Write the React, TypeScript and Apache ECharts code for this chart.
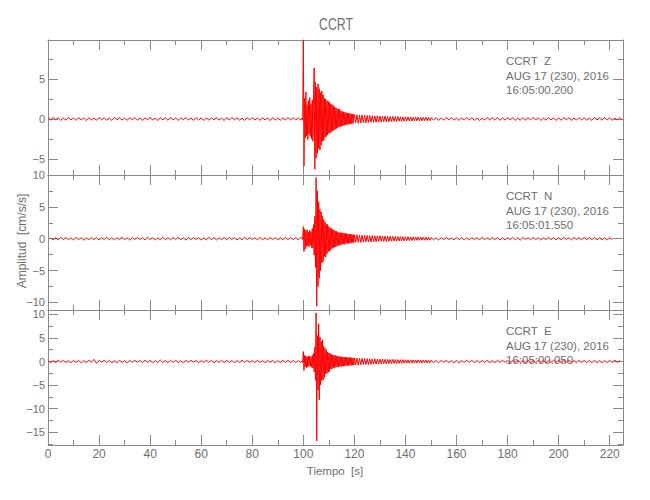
import React, { useEffect, useRef } from "react";
import * as echarts from "echarts";

// ---------- data ----------
const stationName = "CCRT";
const components = ["Z", "N", "E"];
const dateLabel = "AUG 17 (230), 2016";
const startTimes = ["16:05:00.200", "16:05:01.550", "16:05:00.050"];
const xTitle = "Tiempo  [s]";
const yTitle = "Amplitud  [cm/s/s]";

const X_MIN = 0;
const X_MAX = 225.2;
const yMins = [-7.03, -11.2, -17.7];
const yMaxs = [9.91, 10, 10.92];

// Z component (cm/s/s)
const zPre = [
  .15,-.12,.18,-.1,.14,-.17,.1,-.15,.2,-.12,
  .13,-.18,.16,-.1,.12,-.2,.17,-.13,.1,-.16,
  .19,-.11,.14,-.15,.12,-.18,.2,-.1,.15,-.14,
  .11,-.17,.16,-.12,.18,-.13,.1,-.19,.15,-.12,
  .22,-.15,.13,-.2,.17,-.11,.14,-.16,.2,-.13,
  .12,-.18,.15,-.1,.19,-.14,.11,-.17,.16,-.12,
  .14,-.2,.13,-.15,.18,-.11,.16,-.14,.12,-.19,
  .17,-.13,.2,-.1,.14,-.16,.11,-.18,.15,-.12,
  .19,-.14,.12,-.17,.16,-.11,.13,-.2,.18,-.15,
  .1,-.16,.14,-.12,.2,-.13,.17,-.15,.11,-.14
];
const zEvent = [
  .12,-.15,9.95,-5.9,2.6,-2.4,3.4,-2.1,1.8,-2.6,
  2.3,-1.9,2.7,-2.2,1.9,-2.5,2.4,-2.8,3.2,6.4,
  -6.3,4.6,-4.9,4.0,-4.3,4.4,-3.7,3.8,-3.9,3.3,
  -3.3,3.5,-2.8,3.0,-2.7,2.6,-2.3,2.5,-2.2,2.3,
  -2.0,2.2,-1.8,2.1,-1.75,1.9,-1.6,1.8,-1.5,1.7,
  -1.4,1.5,-1.3,1.4,-1.2,1.3,-1.1,1.25,-1.0,1.2,
  -.95,1.0,-.9,.95,-.85,.9,-.8,.85,-.75,.8,
  -.7,.75,-.7,.7,-.65,.7,-.6,.65,-.6,.6,
  -.55,.6
];
const zTail = [
  .55,-.5,.52,-.55,.48,-.5,.5,-.45,.47,-.5,
  .44,-.42,.45,-.4,.42,-.44,.38,-.4,.4,-.36,
  .37,-.38,.35,-.33,.36,-.34,.32,-.35,.3,-.31,
  .32,-.3,.28,-.3,.3,-.27,.28,-.29,.26,-.27,
  .27,-.25,.26,-.24,.25,-.26,.23,-.24,.25,-.22,
  .24,-.22,.21,-.23,.22,-.2,.22,-.21,.2,-.22
];
const zPost = [
  .18,-.14,.16,-.19,.13,-.15,.2,-.12,.17,-.16,
  .12,-.18,.15,-.13,.19,-.11,.16,-.17,.14,-.2,
  .11,-.15,.18,-.13,.16,-.12,.2,-.17,.13,-.15,
  .17,-.11,.14,-.19,.12,-.16,.18,-.14,.15,-.12,
  .2,-.13,.16,-.18,.11,-.15,.17,-.12,.14,-.19,
  .13,-.16,.18,-.11,.15,-.17,.12,-.14,.19,-.13,
  .16,-.15,.11,-.18,.17,-.12,.14,-.16,.2,-.13,
  .15,-.17,.12,-.14,.18,-.15
];

// N component
const nPre = [
  .16,-.2,.13,-.17,.21,-.12,.18,-.15,.11,-.19,
  .2,-.14,.15,-.22,.12,-.16,.19,-.13,.17,-.2,
  .14,-.11,.22,-.17,.13,-.19,.16,-.12,.2,-.15,
  .12,-.21,.17,-.14,.19,-.1,.15,-.18,.21,-.13,
  .16,-.2,.11,-.17,.23,-.15,.14,-.19,.18,-.12,
  .2,-.16,.13,-.21,.17,-.14,.19,-.11,.15,-.2,
  .12,-.18,.22,-.13,.16,-.19,.14,-.15,.2,-.17,
  .18,-.12,.15,-.2,.13,-.16,.21,-.14,.17,-.11,
  .14,-.19,.2,-.15,.12,-.17,.18,-.13,.16,-.2,
  .13,-.16,.19,-.12,.17,-.14,.15,-.18,.2
];
const nEvent = [
  .1,-.15,1.9,-2.0,1.5,-1.6,1.3,-1.2,1.4,-1.1,
  1.0,-1.3,1.3,-1.0,1.1,-1.4,1.6,-1.5,2.2,-2.6,
  3.5,-4.5,9.6,-10.6,7.5,-7.5,5.8,-6.2,4.6,-5.0,
  4.2,-3.8,3.5,-3.6,3.0,-2.8,2.6,-2.9,2.3,-2.4,
  2.2,-2.0,1.9,-2.0,1.7,-1.8,1.6,-1.5,1.4,-1.5,
  1.4,-1.3,1.2,-1.3,1.2,-1.1,1.0,-1.1,1.0,-.95,
  .9,-1.0,.95,-.85,.9,-.8,.85,-.9,.8,-.75,
  .8,-.7,.75,-.8,.7,-.65,.7,-.7,.65,-.6,
  .65,-.6
];
const nTail = [
  .6,-.58,.62,-.55,.56,-.6,.52,-.54,.55,-.5,
  .5,-.52,.47,-.5,.48,-.45,.46,-.47,.43,-.45,
  .44,-.4,.42,-.43,.4,-.41,.38,-.4,.39,-.36,
  .37,-.38,.35,-.36,.34,-.35,.33,-.34,.32,-.33,
  .31,-.32,.3,-.3,.29,-.3,.28,-.27,.28,-.26,
  .27,-.25,.26,-.24,.25,-.24,.23,-.24,.22,-.23
];
const nPost = [
  .2,-.17,.14,-.21,.16,-.13,.19,-.15,.12,-.18,
  .21,-.14,.17,-.2,.13,-.16,.18,-.12,.15,-.19,
  .22,-.15,.13,-.17,.19,-.14,.16,-.2,.12,-.18,
  .17,-.13,.2,-.16,.14,-.21,.18,-.12,.15,-.17,
  .19,-.14,.13,-.2,.16,-.15,.21,-.13,.17,-.18,
  .12,-.16,.2,-.14,.15,-.19,.18,-.12,.14,-.17,
  .2,-.15,.16,-.13,.19,-.18,.14,-.16,.17,-.2,
  .13,-.15
];

// E component
const ePre = [
  .2,-.25,.18,-.22,.27,-.16,.23,-.2,.15,-.26,
  .24,-.19,.21,-.28,.17,-.23,.26,-.18,.45,-.4,
  .22,-.15,.27,-.21,.19,-.25,.16,-.22,.25,-.2,
  .18,-.27,.23,-.17,.26,-.14,.21,-.24,.28,-.19,
  .24,-.26,.17,-.22,.3,-.2,.19,-.25,.23,-.18,
  .26,-.21,.16,-.27,.22,-.19,.25,-.15,.2,-.24,
  .17,-.23,.28,-.18,.21,-.26,.19,-.2,.25,-.22,
  .23,-.16,.2,-.25,.18,-.21,.27,-.19,.22,-.17,
  .19,-.24,.26,-.2,.16,-.23,.24,-.18,.21,-.26,
  .18,-.21,.25,-.17,.23,-.19,.2,-.24,.16,-.22
];
const eEvent = [
  .1,-.2,2.1,-1.9,1.3,-1.1,1.2,-1.3,1.0,-1.2,
  1.1,-.9,1.2,-1.0,.9,-1.2,1.3,-1.4,1.8,-2.2,
  3.0,-4.0,10.3,-16.8,5.5,-6.0,8.0,-8.1,5.2,-5.0,
  4.3,-4.0,4.6,-3.9,3.2,-3.4,2.8,-2.6,2.4,-2.5,
  2.0,-2.3,1.8,-2.1,1.7,-1.6,1.5,-1.6,1.4,-1.3,
  1.3,-1.4,1.3,-1.2,1.2,-1.1,1.1,-1.2,1.1,-1.0,
  1.0,-1.1,1.0,-.95,.95,-1.0,.9,-.95,.9,-.85,
  .9,-.9,.85,-.8,.85,-.85,.8,-.8,.8,-.75,
  .75,-.8
];
const eTail = [
  .75,-.7,.72,-.74,.68,-.7,.66,-.64,.65,-.62,
  .6,-.63,.58,-.6,.56,-.55,.57,-.53,.52,-.54,
  .5,-.48,.5,-.47,.46,-.48,.45,-.43,.44,-.42,
  .43,-.4,.41,-.42,.39,-.4,.38,-.37,.38,-.36,
  .36,-.35,.35,-.36,.34,-.33,.33,-.34,.32,-.31,
  .32,-.3,.31,-.3,.3,-.29,.29,-.3,.28,-.28
];
const ePost = [
  .26,-.22,.2,-.27,.23,-.18,.25,-.21,.17,-.24,
  .22,-.26,.19,-.2,.27,-.17,.24,-.23,.18,-.25,
  .21,-.19,.26,-.22,.16,-.24,.23,-.2,.28,-.18,
  .2,-.25,.22,-.17,.26,-.21,.19,-.27,.24,-.2,
  .17,-.23,.25,-.19,.21,-.26,.18,-.22,.27,-.2,
  .23,-.17,.2,-.24,.26,-.21,.19,-.25,.22,-.18,
  .25,-.2,.17,-.23,.24,-.22,.2,-.26,.18,-.21,
  .23,-.19,.26,-.2,.21
];

// segment sample starts (s) and sample spacing (s)
const preStart = [0, 1, 0];
const preDt = 1;
const eventStart = 99.5;
const eventDt = 0.25;
const tailStart = 120;
const tailDt = 0.5;
const postStart = 150;
const postDt = 1;

const traceSegments = [
  [zPre, zEvent, zTail, zPost],
  [nPre, nEvent, nTail, nPost],
  [ePre, eEvent, eTail, ePost],
];

// ---------- style ----------
const FONT = "'Liberation Sans', Arial, sans-serif";
const AXIS_COLOR = "#8a8a8a";
const TEXT_COLOR = "#6e6e6e";
const TRACE_COLOR = "#ff0000";
const GRID_LEFT = 48;
const GRID_WIDTH = 575;
const PANEL_TOPS = [40, 175, 310];
const PANEL_H = 135;
const MAJOR_TICK = 10;
const MINOR_TICK = 5;

function buildTrace(i: number) {
  const [pre, ev, tail, post] = traceSegments[i];
  const out: number[][] = [];
  const push = (vals: number[], t0: number, dt: number) =>
    vals.forEach((v, k) => out.push([+(t0 + k * dt).toFixed(3), v]));
  push(pre, preStart[i], preDt);
  push(ev, eventStart, eventDt);
  push(tail, tailStart, tailDt);
  push(post, postStart, postDt);
  return out;
}

const isMult = (v: number, m: number) => Math.abs(v / m - Math.round(v / m)) < 1e-6;

function tickStyle(major: boolean) {
  return {
    show: true,
    inside: true,
    length: major ? MAJOR_TICK : MINOR_TICK,
    lineStyle: { color: AXIS_COLOR, width: 1 },
  };
}

function lineStyle(major: boolean) {
  return { show: major, onZero: false, lineStyle: { color: AXIS_COLOR, width: 1 } };
}

function makeX(grid: number, pos: string, major: boolean, labels: boolean) {
  const iv = major ? 20 : 10;
  return {
    type: "value",
    gridIndex: grid,
    position: pos,
    min: X_MIN,
    max: X_MAX,
    minInterval: iv,
    maxInterval: iv,
    splitNumber: major ? 11 : 22,
    axisLine: lineStyle(major),
    axisTick: tickStyle(major),
    axisLabel: {
      show: labels,
      margin: 3,
      color: TEXT_COLOR,
      fontSize: 12,
      fontFamily: FONT,
      formatter: (v: number) => (isMult(v, 20) ? String(Math.round(v)) : ""),
    },
    splitLine: { show: false },
    minorTick: { show: false },
  };
}

function makeY(grid: number, pos: string, major: boolean, labels: boolean) {
  const iv = major ? 5 : 2.5;
  return {
    type: "value",
    gridIndex: grid,
    position: pos,
    min: yMins[grid],
    max: yMaxs[grid],
    minInterval: iv,
    maxInterval: iv,
    splitNumber: 4,
    axisLine: lineStyle(major),
    axisTick: tickStyle(major),
    axisLabel: {
      show: labels,
      margin: 3,
      color: TEXT_COLOR,
      fontSize: 11,
      lineHeight: 11,
      fontFamily: FONT,
      formatter: (v: number) => {
        if (!isMult(v, 5)) return "";
        const r = Math.round(v);
        return r < 0 ? "\u2212" + Math.abs(r) : String(r);
      },
    },
    splitLine: { show: false },
  };
}

function textEl(text: string, x: number, y: number, size: number, align: string, extra: any = {}) {
  return {
    type: "text",
    x,
    y,
    silent: true,
    ...extra,
    style: {
      text,
      fill: TEXT_COLOR,
      fontSize: size,
      fontFamily: FONT,
      textAlign: align,
      align,
      textVerticalAlign: "middle",
      verticalAlign: "middle",
    },
  };
}

export default function App() {
  const ref = useRef<HTMLDivElement>(null);
  useEffect(() => {
    if (!ref.current) return;
    const chart = echarts.init(ref.current, null, { renderer: "svg" });
    const grids: any[] = [];
    const xAxes: any[] = [];
    const yAxes: any[] = [];
    const series: any[] = [];
    const graphics: any[] = [];
    for (let i = 0; i < 3; i++) {
      grids.push({ left: GRID_LEFT, width: GRID_WIDTH, top: PANEL_TOPS[i], height: PANEL_H, outerBoundsMode: "none", containLabel: false });
      xAxes.push(makeX(i, "bottom", true, i === 2));
      xAxes.push(makeX(i, "bottom", false, false));
      xAxes.push(makeX(i, "top", true, false));
      xAxes.push(makeX(i, "top", false, false));
      yAxes.push(makeY(i, "left", true, true));
      yAxes.push(makeY(i, "left", false, false));
      yAxes.push(makeY(i, "right", true, false));
      yAxes.push(makeY(i, "right", false, false));
      series.push({
        type: "line",
        xAxisIndex: i * 4,
        yAxisIndex: i * 4,
        data: buildTrace(i),
        showSymbol: false,
        symbol: "none",
        silent: true,
        clip: true,
        lineStyle: { color: TRACE_COLOR, width: 1 },
      });
      const top = PANEL_TOPS[i];
      graphics.push(textEl(stationName + "  " + components[i], 506, top + 21, 11.5, "left"));
      graphics.push(textEl(dateLabel, 506, top + 35.5, 11.5, "left"));
      graphics.push(textEl(startTimes[i], 506, top + 50, 11.5, "left"));
    }
    graphics.push(textEl(stationName, 336, 24, 17, "center", { scaleX: 0.72 }));
    graphics.push(textEl(yTitle, 22, 241, 12, "center", { rotation: Math.PI / 2 }));
    graphics.push(textEl(xTitle, 335, 471, 11.5, "center"));

    chart.setOption({
      animation: false,
      backgroundColor: "#ffffff",
      grid: grids,
      xAxis: xAxes,
      yAxis: yAxes,
      series,
      graphic: { elements: graphics },
    });
    return () => chart.dispose();
  }, []);
  return <div ref={ref} style={{ position: "fixed", left: 0, top: 0, width: 650, height: 500 }} />;
}
